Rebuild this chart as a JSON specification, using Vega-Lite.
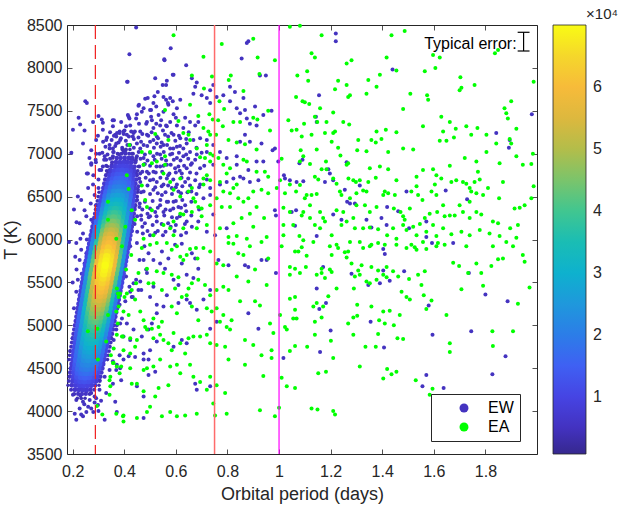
{
"$schema":"https://vega.github.io/schema/vega-lite/v6.json",
"width":470,"height":429,
"autosize":"none",
"padding":{"left":67,"top":25,"right":87,"bottom":51},
"config":{"font":"Liberation Sans","view":{"stroke":"#262626","strokeWidth":1},
"axis":{"grid":false,"domain":false,"tickColor":"#262626","tickWidth":0.8,"tickSize":-5,"labelColor":"#262626","labelFontSize":16,"titleColor":"#262626","titleFontSize":18,"titleFontWeight":"normal","labelOverlap":false,"labelFlush":false}},
"datasets":{
"ew":[
{"p":1.220,"T":8400},{"p":1.220,"T":8310},{"p":1.440,"T":7980},{"p":1.155,"T":7680},{"p":1.143,"T":7430},{"p":1.146,"T":7370},{"p":0.971,"T":7500},{"p":0.975,"T":7040},{"p":0.984,"T":7060},{"p":0.997,"T":6910},{"p":1.091,"T":6930},{"p":1.079,"T":6890},{"p":1.191,"T":6820},{"p":1.197,"T":6770},{"p":1.178,"T":6670},{"p":1.210,"T":6690},{"p":1.262,"T":6900},{"p":1.313,"T":6630},{"p":1.255,"T":6580},{"p":1.264,"T":6440},{"p":1.275,"T":6420},{"p":1.294,"T":6420},{"p":1.210,"T":6290},{"p":1.242,"T":6230},{"p":1.339,"T":6230},{"p":1.397,"T":6250},{"p":1.419,"T":6380},{"p":1.462,"T":6330},{"p":1.494,"T":6560},{"p":1.504,"T":6130},{"p":1.571,"T":6030},{"p":1.571,"T":6210},{"p":1.646,"T":6570},{"p":1.729,"T":6470},{"p":1.842,"T":7240},{"p":1.894,"T":7160},{"p":1.891,"T":7070},{"p":1.980,"T":7460},{"p":1.042,"T":6690},{"p":1.068,"T":6670},{"p":1.094,"T":6680},{"p":1.066,"T":6340},{"p":1.049,"T":6320},{"p":1.023,"T":6710},{"p":1.019,"T":6750},{"p":0.984,"T":6340},{"p":0.988,"T":6280},{"p":1.062,"T":6160},{"p":1.146,"T":6040},{"p":1.358,"T":6140},{"p":1.417,"T":6170},
{"p":0.988,"T":5610},{"p":1.146,"T":5430},{"p":1.156,"T":5190},{"p":1.171,"T":5680},{"p":1.182,"T":5260},{"p":1.200,"T":4940},{"p":1.159,"T":4690},{"p":1.281,"T":5600},{"p":1.346,"T":5470},{"p":1.355,"T":5040},{"p":1.391,"T":5490},{"p":1.404,"T":5640},{"p":1.410,"T":5830},{"p":1.404,"T":5890},{"p":1.429,"T":5520},{"p":1.485,"T":5630},{"p":1.407,"T":4740},{"p":1.571,"T":4420},{"p":1.556,"T":4290},{"p":1.593,"T":5960},{"p":1.675,"T":5960},{"p":1.595,"T":4890},{"p":1.580,"T":5230},{"p":1.638,"T":4270},{"p":1.736,"T":5610},{"p":1.800,"T":5360},{"p":1.745,"T":4930},{"p":1.827,"T":4430},{"p":1.878,"T":4640},{"p":1.886,"T":5280},{"p":1.017,"T":4620},
{"p":0.446,"T":8470},{"p":0.580,"T":8230},{"p":0.420,"T":8160},{"p":0.555,"T":8100},{"p":0.640,"T":8030},{"p":0.413,"T":7840},{"p":0.520,"T":7880},{"p":0.549,"T":7800},{"p":0.565,"T":7850},{"p":0.591,"T":7920},{"p":0.662,"T":7880},{"p":0.681,"T":7830},{"p":0.675,"T":7780},{"p":0.700,"T":7680},{"p":0.733,"T":7590},{"p":0.668,"T":7700},{"p":0.617,"T":7630},{"p":0.578,"T":7650},{"p":0.552,"T":7660},{"p":0.513,"T":7590},{"p":0.500,"T":7510},{"p":0.481,"T":7640},{"p":0.455,"T":7560},{"p":0.468,"T":7490},{"p":0.507,"T":7390},{"p":0.533,"T":7450},{"p":0.552,"T":7490},{"p":0.571,"T":7570},{"p":0.591,"T":7460},{"p":0.604,"T":7530},{"p":0.636,"T":7420},{"p":0.655,"T":7370},{"p":0.675,"T":7330},{"p":0.687,"T":7370},{"p":0.629,"T":7300},{"p":0.604,"T":7330},{"p":0.578,"T":7370},{"p":0.565,"T":7320},{"p":0.539,"T":7330},{"p":0.513,"T":7300},{"p":0.488,"T":7370},{"p":0.449,"T":7460},{"p":0.417,"T":7430},{"p":0.423,"T":7330},{"p":0.397,"T":7260},{"p":0.384,"T":7160},{"p":0.410,"T":7220},{"p":0.436,"T":7240},{"p":0.462,"T":7260},{"p":0.488,"T":7220},{"p":0.526,"T":7200},{"p":0.558,"T":7220},{"p":0.591,"T":7220},{"p":0.617,"T":7180},{"p":0.642,"T":7120},{"p":0.668,"T":7160},{"p":0.694,"T":7180},{"p":0.720,"T":7160},{"p":0.745,"T":7100},{"p":0.720,"T":7020},{"p":0.681,"T":6990},{"p":0.655,"T":7020},{"p":0.629,"T":7060},{"p":0.604,"T":7080},{"p":0.578,"T":7060},{"p":0.552,"T":7100},{"p":0.526,"T":7120},{"p":0.500,"T":7140},{"p":0.475,"T":7100},{"p":0.449,"T":7120},{"p":0.423,"T":7100},{"p":0.397,"T":7020},{"p":0.371,"T":6950},{"p":0.391,"T":6890},{"p":0.423,"T":6950},{"p":0.449,"T":6970},{"p":0.475,"T":6950},{"p":0.513,"T":6970},{"p":0.539,"T":6990},{"p":0.578,"T":6990},{"p":0.604,"T":6950},{"p":0.629,"T":6970},{"p":0.662,"T":6890},{"p":0.642,"T":6830},{"p":0.623,"T":6770},{"p":0.597,"T":6830},{"p":0.565,"T":6870},{"p":0.539,"T":6850},{"p":0.513,"T":6790},{"p":0.488,"T":6790},{"p":0.462,"T":6770},{"p":0.436,"T":6830},{"p":0.410,"T":6850},{"p":0.384,"T":6790},{"p":0.371,"T":6710},{"p":0.404,"T":6670},{"p":0.436,"T":6690},{"p":0.462,"T":6670},{"p":0.500,"T":6690},{"p":0.526,"T":6670},{"p":0.552,"T":6640},{"p":0.584,"T":6600},{"p":0.604,"T":6640},{"p":0.636,"T":6670},{"p":0.675,"T":6690},{"p":0.694,"T":6640},{"p":0.733,"T":6600},{"p":0.771,"T":6640},{"p":0.797,"T":6670},{"p":0.823,"T":6710},{"p":0.849,"T":6730},{"p":0.887,"T":6670},{"p":0.920,"T":6690},{"p":0.939,"T":6910},{"p":0.913,"T":6910},{"p":0.881,"T":6810},{"p":0.862,"T":6710},{"p":0.836,"T":6870},{"p":0.797,"T":6950},{"p":0.771,"T":7020},{"p":0.745,"T":6870},{"p":0.694,"T":6830},{"p":0.359,"T":7020},{"p":0.359,"T":6640},{"p":0.378,"T":6520},{"p":0.410,"T":6480},{"p":0.449,"T":6500},{"p":0.475,"T":6560},{"p":0.513,"T":6580},{"p":0.546,"T":6520},{"p":0.565,"T":6440},{"p":0.591,"T":6440},{"p":0.610,"T":6380},{"p":0.636,"T":6400},{"p":0.539,"T":6400},{"p":0.520,"T":6320},{"p":0.500,"T":6270},{"p":0.526,"T":6210},{"p":0.552,"T":6320},{"p":0.578,"T":6340},{"p":0.604,"T":6250},{"p":0.642,"T":6210},{"p":0.662,"T":6150},{"p":0.687,"T":6210},{"p":0.720,"T":6090},{"p":0.752,"T":6050},{"p":0.797,"T":6130},{"p":0.745,"T":6290},{"p":0.707,"T":6480},{"p":0.733,"T":6520},{"p":0.836,"T":6970},{"p":0.849,"T":7140},{"p":0.868,"T":7220},{"p":0.887,"T":7140},{"p":0.932,"T":7120},{"p":0.913,"T":7330},{"p":0.887,"T":7350},{"p":0.875,"T":7410},{"p":0.849,"T":7470},{"p":0.836,"T":7530},{"p":0.810,"T":7610},{"p":0.784,"T":7680},{"p":0.758,"T":7660},{"p":0.745,"T":7800},{"p":0.720,"T":7650},{"p":0.733,"T":7740},{"p":0.862,"T":7650},{"p":0.868,"T":7510},{"p":0.907,"T":7550},{"p":0.939,"T":7450},{"p":0.875,"T":8290},{"p":0.881,"T":8310},{"p":0.855,"T":8110},{"p":0.926,"T":7910},{"p":0.949,"T":7910},{"p":0.355,"T":7390},{"p":0.365,"T":7220},{"p":0.829,"T":7720},{"p":0.810,"T":7780},
{"p":0.430,"T":6560},{"p":0.460,"T":6420},{"p":0.490,"T":6300},{"p":0.470,"T":6150},{"p":0.430,"T":6100},{"p":0.500,"T":6050},{"p":0.550,"T":6050},{"p":0.580,"T":6150},{"p":0.620,"T":6050},{"p":0.450,"T":6270},{"p":0.530,"T":6100},{"p":0.640,"T":6330},{"p":0.660,"T":6560},{"p":0.610,"T":6560},{"p":0.570,"T":6750},{"p":0.480,"T":6880},{"p":0.600,"T":7420},{"p":0.650,"T":7250},
{"p":0.556,"T":8090},{"p":0.588,"T":7920},{"p":0.411,"T":7840},{"p":0.562,"T":7800},{"p":0.530,"T":7720},{"p":0.491,"T":7650},{"p":0.517,"T":7670},{"p":0.475,"T":7530},{"p":0.457,"T":7570},{"p":0.504,"T":7510},{"p":0.524,"T":7550},{"p":0.562,"T":7630},{"p":0.569,"T":7590},{"p":0.588,"T":7610},{"p":0.246,"T":7270},{"p":0.317,"T":7360},{"p":0.279,"T":7370},{"p":0.298,"T":7210},{"p":0.240,"T":7120},{"p":0.272,"T":7040},{"p":0.291,"T":7000},{"p":0.289,"T":6930},{"p":0.272,"T":6870},{"p":0.255,"T":6770},{"p":0.343,"T":7100},{"p":0.356,"T":7060},{"p":0.360,"T":7390},{"p":0.388,"T":7370},{"p":0.414,"T":7450},{"p":0.420,"T":7410},{"p":0.446,"T":7410},{"p":0.457,"T":7350},{"p":0.485,"T":7350},{"p":0.504,"T":7430},{"p":0.524,"T":7350},{"p":0.543,"T":7390},{"p":0.562,"T":7330},{"p":0.369,"T":7200},{"p":0.382,"T":7260},{"p":0.401,"T":7270},{"p":0.427,"T":7260},{"p":0.330,"T":6930},{"p":0.317,"T":6850},{"p":0.337,"T":6770},{"p":0.324,"T":6970},{"p":0.304,"T":6810},
{"p":0.345,"T":7250},{"p":0.372,"T":7240},{"p":0.398,"T":7230},{"p":0.441,"T":7260},{"p":0.470,"T":7230},{"p":0.506,"T":7250},{"p":0.550,"T":7270},{"p":0.583,"T":7240},
{"p":0.333,"T":7190},{"p":0.360,"T":7210},{"p":0.387,"T":7180},{"p":0.418,"T":7200},{"p":0.455,"T":7190},{"p":0.493,"T":7210},{"p":0.531,"T":7180},{"p":0.570,"T":7200},{"p":0.612,"T":7210},
{"p":0.318,"T":7140},{"p":0.351,"T":7160},{"p":0.378,"T":7130},{"p":0.406,"T":7150},{"p":0.437,"T":7170},{"p":0.465,"T":7140},{"p":0.513,"T":7160},{"p":0.545,"T":7130},{"p":0.598,"T":7150},{"p":0.640,"T":7170},
{"p":0.327,"T":7080},{"p":0.343,"T":7060},{"p":0.365,"T":7090},{"p":0.392,"T":7070},{"p":0.412,"T":7100},{"p":0.437,"T":7070},{"p":0.462,"T":7060},{"p":0.489,"T":7090},{"p":0.515,"T":7070},{"p":0.541,"T":7080},{"p":0.566,"T":7100},{"p":0.590,"T":7060},{"p":0.616,"T":7090},{"p":0.680,"T":7070},
{"p":0.315,"T":7010},{"p":0.335,"T":6990},{"p":0.357,"T":7020},{"p":0.380,"T":6990},{"p":0.405,"T":7010},{"p":0.430,"T":7000},{"p":0.456,"T":7020},{"p":0.480,"T":6990},{"p":0.500,"T":7010},{"p":0.527,"T":7000},{"p":0.553,"T":7020},{"p":0.586,"T":7000},{"p":0.612,"T":7010},{"p":0.640,"T":6990},{"p":0.700,"T":7010},
{"p":0.322,"T":6930},{"p":0.345,"T":6940},{"p":0.402,"T":6920},{"p":0.422,"T":6940},{"p":0.445,"T":6920},{"p":0.463,"T":6940},{"p":0.490,"T":6920},{"p":0.518,"T":6930},{"p":0.545,"T":6940},{"p":0.562,"T":6920},{"p":0.592,"T":6930},{"p":0.618,"T":6920},{"p":0.648,"T":6940},{"p":0.675,"T":6930},
{"p":0.330,"T":6860},{"p":0.352,"T":6870},{"p":0.458,"T":6850},{"p":0.475,"T":6870},{"p":0.500,"T":6860},{"p":0.525,"T":6850},{"p":0.552,"T":6860},{"p":0.580,"T":6870},{"p":0.610,"T":6850},{"p":0.632,"T":6860},{"p":0.658,"T":6870},{"p":0.710,"T":6860},
{"p":0.345,"T":6780},{"p":0.470,"T":6790},{"p":0.495,"T":6770},{"p":0.522,"T":6780},{"p":0.547,"T":6790},{"p":0.575,"T":6770},{"p":0.600,"T":6780},{"p":0.615,"T":6800},{"p":0.655,"T":6780},{"p":0.680,"T":6770},
{"p":0.458,"T":6710},{"p":0.483,"T":6720},{"p":0.512,"T":6700},{"p":0.540,"T":6720},{"p":0.565,"T":6710},{"p":0.590,"T":6700},{"p":0.622,"T":6720},{"p":0.648,"T":6710},{"p":0.720,"T":6700},
{"p":0.455,"T":6620},{"p":0.490,"T":6630},{"p":0.520,"T":6610},{"p":0.545,"T":6620},{"p":0.570,"T":6630},{"p":0.600,"T":6610},{"p":0.625,"T":6620},{"p":0.655,"T":6630},{"p":0.690,"T":6610},
{"p":0.440,"T":6540},{"p":0.465,"T":6550},{"p":0.500,"T":6530},{"p":0.530,"T":6540},{"p":0.560,"T":6550},{"p":0.585,"T":6530},{"p":0.620,"T":6540},{"p":0.645,"T":6550},{"p":0.680,"T":6530},
{"p":0.420,"T":6450},{"p":0.450,"T":6460},{"p":0.480,"T":6440},{"p":0.510,"T":6450},{"p":0.540,"T":6460},{"p":0.570,"T":6440},{"p":0.600,"T":6450},{"p":0.625,"T":6460},{"p":0.660,"T":6440},
{"p":0.410,"T":6360},{"p":0.440,"T":6370},{"p":0.470,"T":6350},{"p":0.500,"T":6360},{"p":0.530,"T":6370},{"p":0.560,"T":6350},{"p":0.590,"T":6360},{"p":0.620,"T":6370},{"p":0.690,"T":6350},
{"p":0.430,"T":6270},{"p":0.465,"T":6280},{"p":0.495,"T":6260},{"p":0.525,"T":6270},{"p":0.555,"T":6280},{"p":0.585,"T":6260},{"p":0.615,"T":6270},{"p":0.660,"T":6280},
{"p":0.440,"T":6180},{"p":0.480,"T":6190},{"p":0.510,"T":6170},{"p":0.545,"T":6180},{"p":0.570,"T":6190},{"p":0.600,"T":6170},{"p":0.635,"T":6180},
{"p":0.450,"T":6090},{"p":0.490,"T":6100},{"p":0.520,"T":6080},{"p":0.560,"T":6090},{"p":0.595,"T":6100},{"p":0.640,"T":6080},
{"p":0.352,"T":5940},{"p":0.397,"T":5860},{"p":0.423,"T":5920},{"p":0.449,"T":5960},{"p":0.475,"T":5760},{"p":0.494,"T":5840},{"p":0.546,"T":5860},{"p":0.571,"T":5780},{"p":0.597,"T":5940},{"p":0.623,"T":5950},{"p":0.623,"T":5720},{"p":0.662,"T":5840},{"p":0.675,"T":5780},{"p":0.687,"T":5660},{"p":0.668,"T":5550},{"p":0.642,"T":5590},{"p":0.610,"T":5470},{"p":0.591,"T":5530},{"p":0.558,"T":5660},{"p":0.539,"T":5720},{"p":0.513,"T":5760},{"p":0.488,"T":5610},{"p":0.462,"T":5510},{"p":0.436,"T":5490},{"p":0.423,"T":5390},{"p":0.404,"T":5280},{"p":0.391,"T":5080},{"p":0.384,"T":5020},{"p":0.371,"T":5000},{"p":0.352,"T":4960},{"p":0.359,"T":4830},{"p":0.410,"T":5020},{"p":0.436,"T":4950},{"p":0.468,"T":4870},{"p":0.494,"T":4950},{"p":0.507,"T":5020},{"p":0.526,"T":5140},{"p":0.552,"T":5220},{"p":0.610,"T":5260},{"p":0.642,"T":5300},{"p":0.655,"T":5260},{"p":0.681,"T":5180},{"p":0.707,"T":5300},{"p":0.733,"T":5410},{"p":0.765,"T":5760},{"p":0.804,"T":5700},{"p":0.868,"T":5700},{"p":0.932,"T":5760},{"p":0.733,"T":4960},{"p":0.758,"T":5040},{"p":0.623,"T":4830},{"p":0.642,"T":4790},{"p":0.591,"T":4750},{"p":0.526,"T":4810},{"p":0.500,"T":4710},{"p":0.475,"T":4670},{"p":0.442,"T":4630},{"p":0.417,"T":4640},{"p":0.397,"T":4600},{"p":0.371,"T":4540},{"p":0.384,"T":4500},{"p":0.475,"T":4600},{"p":0.494,"T":4600},{"p":0.520,"T":4460},{"p":0.494,"T":4420},{"p":0.449,"T":4290},{"p":0.475,"T":4170},{"p":0.365,"T":4110},{"p":0.371,"T":3990},{"p":0.475,"T":3920},{"p":0.681,"T":4250},{"p":0.675,"T":4320},{"p":0.733,"T":4290},{"p":0.881,"T":5140},{"p":0.920,"T":4960},{"p":0.881,"T":5680},{"p":0.952,"T":5760},{"p":0.526,"T":5240},{"p":0.565,"T":5350},{"p":0.500,"T":5330},{"p":0.513,"T":5450},{"p":0.455,"T":5410},{"p":0.429,"T":5330},{"p":0.397,"T":4870},{"p":0.423,"T":4830},
{"p":0.229,"T":7340},{"p":0.201,"T":7280},{"p":0.195,"T":7010},{"p":0.272,"T":6890},{"p":0.259,"T":6770},{"p":0.279,"T":6640},{"p":0.285,"T":6520},{"p":0.220,"T":6500},{"p":0.233,"T":6460},{"p":0.246,"T":6340},{"p":0.253,"T":6270},{"p":0.272,"T":6230},{"p":0.227,"T":6190},{"p":0.240,"T":6070},{"p":0.214,"T":5960},{"p":0.233,"T":5880},{"p":0.253,"T":5840},{"p":0.186,"T":5970},{"p":0.227,"T":5760},{"p":0.246,"T":5720},{"p":0.266,"T":5660},{"p":0.220,"T":5530},{"p":0.240,"T":5450},{"p":0.233,"T":5370},{"p":0.253,"T":5330},{"p":0.214,"T":5390},
{"p":0.356,"T":7320},{"p":0.382,"T":7240},{"p":0.407,"T":7320},{"p":0.433,"T":7200},{"p":0.369,"T":7120},{"p":0.401,"T":7040},{"p":0.356,"T":6970},{"p":0.433,"T":6930},{"p":0.343,"T":6810},{"p":0.446,"T":6770},{"p":0.337,"T":6620},{"p":0.453,"T":6580},{"p":0.324,"T":6420},{"p":0.459,"T":6380},{"p":0.317,"T":6230},{"p":0.466,"T":6230},{"p":0.472,"T":6070},{"p":0.311,"T":6810},{"p":0.304,"T":7000},{"p":0.330,"T":7160},{"p":0.317,"T":7280},{"p":0.291,"T":7160},{"p":0.478,"T":5920},{"p":0.459,"T":5760},{"p":0.485,"T":5650},{"p":0.446,"T":5530},{"p":0.466,"T":5410},{"p":0.433,"T":5330},{"p":0.407,"T":5570},{"p":0.420,"T":5450},
{"p":0.265,"T":6950},{"p":0.290,"T":6900},{"p":0.280,"T":6750},{"p":0.300,"T":6600},{"p":0.260,"T":6600},{"p":0.290,"T":6400},{"p":0.270,"T":6420},{"p":0.300,"T":6700},{"p":0.255,"T":6000},{"p":0.260,"T":5900},{"p":0.275,"T":6100},
{"p":0.205,"T":6350},{"p":0.215,"T":6200},{"p":0.230,"T":6010},{"p":0.210,"T":5800},{"p":0.235,"T":5600},{"p":0.215,"T":5650},{"p":0.200,"T":5500},{"p":0.225,"T":5250},{"p":0.205,"T":5200},{"p":0.215,"T":5050},{"p":0.200,"T":4850},{"p":0.190,"T":4700},{"p":0.205,"T":4600},{"p":0.190,"T":4450},{"p":0.195,"T":4300},{"p":0.260,"T":4050},{"p":0.280,"T":3990},{"p":0.300,"T":4000},{"p":0.245,"T":4080},{"p":0.230,"T":4180},{"p":0.285,"T":4100},{"p":0.310,"T":4120},
{"p":0.220,"T":4320},{"p":0.208,"T":4250},{"p":0.201,"T":4190},{"p":0.233,"T":4270},{"p":0.253,"T":4230},{"p":0.272,"T":4210},{"p":0.214,"T":4130},{"p":0.240,"T":4110},{"p":0.266,"T":4130},{"p":0.291,"T":4150},{"p":0.227,"T":4030},{"p":0.208,"T":3970},{"p":0.233,"T":3960},{"p":0.253,"T":3990},{"p":0.214,"T":3900},{"p":0.240,"T":3940},{"p":0.272,"T":4030},{"p":0.201,"T":4360},{"p":0.304,"T":4360},{"p":0.324,"T":4400},{"p":0.343,"T":4480},{"p":0.369,"T":4480},{"p":0.356,"T":4580},{"p":0.317,"T":4630},{"p":0.382,"T":4650},{"p":0.369,"T":4950},{"p":0.343,"T":4870},{"p":0.330,"T":4790},{"p":0.311,"T":4520},{"p":0.291,"T":4440},{"p":0.227,"T":4400},{"p":0.324,"T":3900},{"p":0.298,"T":4070},{"p":0.285,"T":4170},{"p":0.304,"T":4250},{"p":0.330,"T":4210},{"p":0.356,"T":4320},{"p":0.388,"T":4360},{"p":0.382,"T":5240},{"p":0.362,"T":5140},{"p":0.220,"T":4950},{"p":0.208,"T":4750},{"p":0.214,"T":4630},{"p":0.201,"T":4520},
{"p":0.249,"T":7610},{"p":0.255,"T":7590},{"p":0.223,"T":7420},{"p":0.300,"T":7440},{"p":0.313,"T":7400}
],
"core":[
{"p":0.218,"T":4150,"d":3800},{"p":0.233,"T":4150,"d":4000},{"p":0.248,"T":4150,"d":3800},
{"p":0.206,"T":4200,"d":4600},{"p":0.221,"T":4200,"d":5300},{"p":0.236,"T":4200,"d":5500},{"p":0.251,"T":4200,"d":5300},{"p":0.266,"T":4200,"d":4600},
{"p":0.194,"T":4250,"d":4700},{"p":0.209,"T":4250,"d":6300},{"p":0.224,"T":4250,"d":7200},{"p":0.239,"T":4250,"d":7500},{"p":0.254,"T":4250,"d":7200},{"p":0.269,"T":4250,"d":6300},{"p":0.284,"T":4250,"d":4700},
{"p":0.182,"T":4300,"d":3600},{"p":0.197,"T":4300,"d":6200},{"p":0.212,"T":4300,"d":8400},{"p":0.227,"T":4300,"d":9600},{"p":0.242,"T":4300,"d":10000},{"p":0.257,"T":4300,"d":9600},{"p":0.272,"T":4300,"d":8400},{"p":0.287,"T":4300,"d":6200},{"p":0.302,"T":4300,"d":3600},
{"p":0.185,"T":4350,"d":4500},{"p":0.200,"T":4350,"d":7800},{"p":0.215,"T":4350,"d":10500},{"p":0.230,"T":4350,"d":12000},{"p":0.245,"T":4350,"d":12500},{"p":0.260,"T":4350,"d":12000},{"p":0.275,"T":4350,"d":10500},{"p":0.290,"T":4350,"d":7800},{"p":0.305,"T":4350,"d":4500},
{"p":0.188,"T":4400,"d":5400},{"p":0.203,"T":4400,"d":9300},{"p":0.218,"T":4400,"d":12600},{"p":0.233,"T":4400,"d":14400},{"p":0.248,"T":4400,"d":15000},{"p":0.263,"T":4400,"d":14400},{"p":0.278,"T":4400,"d":12600},{"p":0.293,"T":4400,"d":9300},{"p":0.308,"T":4400,"d":5400},
{"p":0.191,"T":4450,"d":6300},{"p":0.206,"T":4450,"d":10900},{"p":0.221,"T":4450,"d":14700},{"p":0.236,"T":4450,"d":16800},{"p":0.251,"T":4450,"d":17500},{"p":0.266,"T":4450,"d":16800},{"p":0.281,"T":4450,"d":14700},{"p":0.296,"T":4450,"d":10900},{"p":0.311,"T":4450,"d":6300},
{"p":0.194,"T":4500,"d":7200},{"p":0.209,"T":4500,"d":12400},{"p":0.224,"T":4500,"d":16800},{"p":0.239,"T":4500,"d":19200},{"p":0.254,"T":4500,"d":20000},{"p":0.269,"T":4500,"d":19200},{"p":0.284,"T":4500,"d":16800},{"p":0.299,"T":4500,"d":12400},{"p":0.314,"T":4500,"d":7200},
{"p":0.197,"T":4550,"d":7900},{"p":0.212,"T":4550,"d":13600},{"p":0.227,"T":4550,"d":18500},{"p":0.242,"T":4550,"d":21100},{"p":0.257,"T":4550,"d":22000},{"p":0.272,"T":4550,"d":21100},{"p":0.287,"T":4550,"d":18500},{"p":0.302,"T":4550,"d":13600},{"p":0.317,"T":4550,"d":7900},
{"p":0.185,"T":4600,"d":3600},{"p":0.200,"T":4600,"d":8600},{"p":0.215,"T":4600,"d":14900},{"p":0.230,"T":4600,"d":20200},{"p":0.245,"T":4600,"d":23000},{"p":0.260,"T":4600,"d":24000},{"p":0.275,"T":4600,"d":23000},{"p":0.290,"T":4600,"d":20200},{"p":0.305,"T":4600,"d":14900},{"p":0.320,"T":4600,"d":8600},{"p":0.335,"T":4600,"d":3600},
{"p":0.188,"T":4650,"d":3900},{"p":0.203,"T":4650,"d":9400},{"p":0.218,"T":4650,"d":16100},{"p":0.233,"T":4650,"d":21800},{"p":0.248,"T":4650,"d":25000},{"p":0.263,"T":4650,"d":26000},{"p":0.278,"T":4650,"d":25000},{"p":0.293,"T":4650,"d":21800},{"p":0.308,"T":4650,"d":16100},{"p":0.323,"T":4650,"d":9400},{"p":0.338,"T":4650,"d":3900},
{"p":0.191,"T":4700,"d":4200},{"p":0.206,"T":4700,"d":10100},{"p":0.221,"T":4700,"d":17400},{"p":0.236,"T":4700,"d":23500},{"p":0.251,"T":4700,"d":26900},{"p":0.266,"T":4700,"d":28000},{"p":0.281,"T":4700,"d":26900},{"p":0.296,"T":4700,"d":23500},{"p":0.311,"T":4700,"d":17400},{"p":0.326,"T":4700,"d":10100},{"p":0.341,"T":4700,"d":4200},
{"p":0.194,"T":4750,"d":4500},{"p":0.209,"T":4750,"d":10800},{"p":0.224,"T":4750,"d":18600},{"p":0.239,"T":4750,"d":25200},{"p":0.254,"T":4750,"d":28800},{"p":0.269,"T":4750,"d":30000},{"p":0.284,"T":4750,"d":28800},{"p":0.299,"T":4750,"d":25200},{"p":0.314,"T":4750,"d":18600},{"p":0.329,"T":4750,"d":10800},{"p":0.344,"T":4750,"d":4500},
{"p":0.197,"T":4800,"d":4800},{"p":0.212,"T":4800,"d":11500},{"p":0.227,"T":4800,"d":19800},{"p":0.242,"T":4800,"d":26900},{"p":0.257,"T":4800,"d":30700},{"p":0.272,"T":4800,"d":32000},{"p":0.287,"T":4800,"d":30700},{"p":0.302,"T":4800,"d":26900},{"p":0.317,"T":4800,"d":19800},{"p":0.332,"T":4800,"d":11500},{"p":0.347,"T":4800,"d":4800},
{"p":0.200,"T":4850,"d":5100},{"p":0.215,"T":4850,"d":12200},{"p":0.230,"T":4850,"d":21100},{"p":0.245,"T":4850,"d":28600},{"p":0.260,"T":4850,"d":32600},{"p":0.275,"T":4850,"d":34000},{"p":0.290,"T":4850,"d":32600},{"p":0.305,"T":4850,"d":28600},{"p":0.320,"T":4850,"d":21100},{"p":0.335,"T":4850,"d":12200},{"p":0.350,"T":4850,"d":5100},
{"p":0.203,"T":4900,"d":5400},{"p":0.218,"T":4900,"d":13000},{"p":0.233,"T":4900,"d":22300},{"p":0.248,"T":4900,"d":30200},{"p":0.263,"T":4900,"d":34600},{"p":0.278,"T":4900,"d":36000},{"p":0.293,"T":4900,"d":34600},{"p":0.308,"T":4900,"d":30200},{"p":0.323,"T":4900,"d":22300},{"p":0.338,"T":4900,"d":13000},{"p":0.353,"T":4900,"d":5400},
{"p":0.206,"T":4950,"d":5700},{"p":0.221,"T":4950,"d":13700},{"p":0.236,"T":4950,"d":23600},{"p":0.251,"T":4950,"d":31900},{"p":0.266,"T":4950,"d":36500},{"p":0.281,"T":4950,"d":38000},{"p":0.296,"T":4950,"d":36500},{"p":0.311,"T":4950,"d":31900},{"p":0.326,"T":4950,"d":23600},{"p":0.341,"T":4950,"d":13700},{"p":0.356,"T":4950,"d":5700},
{"p":0.209,"T":5000,"d":6000},{"p":0.224,"T":5000,"d":14400},{"p":0.239,"T":5000,"d":24800},{"p":0.254,"T":5000,"d":33600},{"p":0.269,"T":5000,"d":38400},{"p":0.284,"T":5000,"d":40000},{"p":0.299,"T":5000,"d":38400},{"p":0.314,"T":5000,"d":33600},{"p":0.329,"T":5000,"d":24800},{"p":0.344,"T":5000,"d":14400},{"p":0.359,"T":5000,"d":6000},
{"p":0.212,"T":5050,"d":6400},{"p":0.227,"T":5050,"d":15300},{"p":0.242,"T":5050,"d":26400},{"p":0.257,"T":5050,"d":35700},{"p":0.272,"T":5050,"d":40800},{"p":0.287,"T":5050,"d":42500},{"p":0.302,"T":5050,"d":40800},{"p":0.317,"T":5050,"d":35700},{"p":0.332,"T":5050,"d":26400},{"p":0.347,"T":5050,"d":15300},{"p":0.362,"T":5050,"d":6400},
{"p":0.215,"T":5100,"d":6800},{"p":0.230,"T":5100,"d":16200},{"p":0.245,"T":5100,"d":27900},{"p":0.260,"T":5100,"d":37800},{"p":0.275,"T":5100,"d":43200},{"p":0.290,"T":5100,"d":45000},{"p":0.305,"T":5100,"d":43200},{"p":0.320,"T":5100,"d":37800},{"p":0.335,"T":5100,"d":27900},{"p":0.350,"T":5100,"d":16200},{"p":0.365,"T":5100,"d":6800},
{"p":0.218,"T":5150,"d":7100},{"p":0.233,"T":5150,"d":17100},{"p":0.248,"T":5150,"d":29500},{"p":0.263,"T":5150,"d":39900},{"p":0.278,"T":5150,"d":45600},{"p":0.293,"T":5150,"d":47500},{"p":0.308,"T":5150,"d":45600},{"p":0.323,"T":5150,"d":39900},{"p":0.338,"T":5150,"d":29500},{"p":0.353,"T":5150,"d":17100},{"p":0.368,"T":5150,"d":7100},
{"p":0.221,"T":5200,"d":7500},{"p":0.236,"T":5200,"d":18000},{"p":0.251,"T":5200,"d":31000},{"p":0.266,"T":5200,"d":42000},{"p":0.281,"T":5200,"d":48000},{"p":0.296,"T":5200,"d":50000},{"p":0.311,"T":5200,"d":48000},{"p":0.326,"T":5200,"d":42000},{"p":0.341,"T":5200,"d":31000},{"p":0.356,"T":5200,"d":18000},{"p":0.371,"T":5200,"d":7500},
{"p":0.224,"T":5250,"d":7900},{"p":0.239,"T":5250,"d":18900},{"p":0.254,"T":5250,"d":32600},{"p":0.269,"T":5250,"d":44100},{"p":0.284,"T":5250,"d":50400},{"p":0.299,"T":5250,"d":52500},{"p":0.314,"T":5250,"d":50400},{"p":0.329,"T":5250,"d":44100},{"p":0.344,"T":5250,"d":32600},{"p":0.359,"T":5250,"d":18900},{"p":0.374,"T":5250,"d":7900},
{"p":0.227,"T":5300,"d":8300},{"p":0.242,"T":5300,"d":19800},{"p":0.257,"T":5300,"d":34100},{"p":0.272,"T":5300,"d":46200},{"p":0.287,"T":5300,"d":52800},{"p":0.302,"T":5300,"d":55000},{"p":0.317,"T":5300,"d":52800},{"p":0.332,"T":5300,"d":46200},{"p":0.347,"T":5300,"d":34100},{"p":0.362,"T":5300,"d":19800},{"p":0.377,"T":5300,"d":8300},
{"p":0.230,"T":5350,"d":8600},{"p":0.245,"T":5350,"d":20700},{"p":0.260,"T":5350,"d":35700},{"p":0.275,"T":5350,"d":48300},{"p":0.290,"T":5350,"d":55200},{"p":0.305,"T":5350,"d":57500},{"p":0.320,"T":5350,"d":55200},{"p":0.335,"T":5350,"d":48300},{"p":0.350,"T":5350,"d":35700},{"p":0.365,"T":5350,"d":20700},{"p":0.380,"T":5350,"d":8600},
{"p":0.233,"T":5400,"d":9000},{"p":0.248,"T":5400,"d":21600},{"p":0.263,"T":5400,"d":37200},{"p":0.278,"T":5400,"d":50400},{"p":0.293,"T":5400,"d":57600},{"p":0.308,"T":5400,"d":60000},{"p":0.323,"T":5400,"d":57600},{"p":0.338,"T":5400,"d":50400},{"p":0.353,"T":5400,"d":37200},{"p":0.368,"T":5400,"d":21600},{"p":0.383,"T":5400,"d":9000},
{"p":0.236,"T":5450,"d":9300},{"p":0.251,"T":5450,"d":22300},{"p":0.266,"T":5450,"d":38400},{"p":0.281,"T":5450,"d":52100},{"p":0.296,"T":5450,"d":59500},{"p":0.311,"T":5450,"d":62000},{"p":0.326,"T":5450,"d":59500},{"p":0.341,"T":5450,"d":52100},{"p":0.356,"T":5450,"d":38400},{"p":0.371,"T":5450,"d":22300},{"p":0.386,"T":5450,"d":9300},
{"p":0.239,"T":5500,"d":9600},{"p":0.254,"T":5500,"d":23000},{"p":0.269,"T":5500,"d":39700},{"p":0.284,"T":5500,"d":53800},{"p":0.299,"T":5500,"d":61400},{"p":0.314,"T":5500,"d":64000},{"p":0.329,"T":5500,"d":61400},{"p":0.344,"T":5500,"d":53800},{"p":0.359,"T":5500,"d":39700},{"p":0.374,"T":5500,"d":23000},{"p":0.389,"T":5500,"d":9600},
{"p":0.242,"T":5550,"d":9900},{"p":0.257,"T":5550,"d":23800},{"p":0.272,"T":5550,"d":40900},{"p":0.287,"T":5550,"d":55400},{"p":0.302,"T":5550,"d":63400},{"p":0.317,"T":5550,"d":66000},{"p":0.332,"T":5550,"d":63400},{"p":0.347,"T":5550,"d":55400},{"p":0.362,"T":5550,"d":40900},{"p":0.377,"T":5550,"d":23800},{"p":0.392,"T":5550,"d":9900},
{"p":0.245,"T":5600,"d":10200},{"p":0.260,"T":5600,"d":24500},{"p":0.275,"T":5600,"d":42200},{"p":0.290,"T":5600,"d":57100},{"p":0.305,"T":5600,"d":65300},{"p":0.320,"T":5600,"d":68000},{"p":0.335,"T":5600,"d":65300},{"p":0.350,"T":5600,"d":57100},{"p":0.365,"T":5600,"d":42200},{"p":0.380,"T":5600,"d":24500},{"p":0.395,"T":5600,"d":10200},
{"p":0.248,"T":5650,"d":10400},{"p":0.263,"T":5650,"d":24800},{"p":0.278,"T":5650,"d":42800},{"p":0.293,"T":5650,"d":58000},{"p":0.308,"T":5650,"d":66200},{"p":0.323,"T":5650,"d":69000},{"p":0.338,"T":5650,"d":66200},{"p":0.353,"T":5650,"d":58000},{"p":0.368,"T":5650,"d":42800},{"p":0.383,"T":5650,"d":24800},{"p":0.398,"T":5650,"d":10400},
{"p":0.251,"T":5700,"d":10500},{"p":0.266,"T":5700,"d":25200},{"p":0.281,"T":5700,"d":43400},{"p":0.296,"T":5700,"d":58800},{"p":0.311,"T":5700,"d":67200},{"p":0.326,"T":5700,"d":70000},{"p":0.341,"T":5700,"d":67200},{"p":0.356,"T":5700,"d":58800},{"p":0.371,"T":5700,"d":43400},{"p":0.386,"T":5700,"d":25200},{"p":0.401,"T":5700,"d":10500},
{"p":0.254,"T":5750,"d":10400},{"p":0.269,"T":5750,"d":24800},{"p":0.284,"T":5750,"d":42800},{"p":0.299,"T":5750,"d":58000},{"p":0.314,"T":5750,"d":66200},{"p":0.329,"T":5750,"d":69000},{"p":0.344,"T":5750,"d":66200},{"p":0.359,"T":5750,"d":58000},{"p":0.374,"T":5750,"d":42800},{"p":0.389,"T":5750,"d":24800},{"p":0.404,"T":5750,"d":10400},
{"p":0.257,"T":5800,"d":10200},{"p":0.272,"T":5800,"d":24500},{"p":0.287,"T":5800,"d":42200},{"p":0.302,"T":5800,"d":57100},{"p":0.317,"T":5800,"d":65300},{"p":0.332,"T":5800,"d":68000},{"p":0.347,"T":5800,"d":65300},{"p":0.362,"T":5800,"d":57100},{"p":0.377,"T":5800,"d":42200},{"p":0.392,"T":5800,"d":24500},{"p":0.407,"T":5800,"d":10200},
{"p":0.260,"T":5850,"d":9800},{"p":0.275,"T":5850,"d":23600},{"p":0.290,"T":5850,"d":40600},{"p":0.305,"T":5850,"d":55000},{"p":0.320,"T":5850,"d":62900},{"p":0.335,"T":5850,"d":65500},{"p":0.350,"T":5850,"d":62900},{"p":0.365,"T":5850,"d":55000},{"p":0.380,"T":5850,"d":40600},{"p":0.395,"T":5850,"d":23600},{"p":0.410,"T":5850,"d":9800},
{"p":0.263,"T":5900,"d":9500},{"p":0.278,"T":5900,"d":22700},{"p":0.293,"T":5900,"d":39100},{"p":0.308,"T":5900,"d":52900},{"p":0.323,"T":5900,"d":60500},{"p":0.338,"T":5900,"d":63000},{"p":0.353,"T":5900,"d":60500},{"p":0.368,"T":5900,"d":52900},{"p":0.383,"T":5900,"d":39100},{"p":0.398,"T":5900,"d":22700},{"p":0.413,"T":5900,"d":9500},
{"p":0.266,"T":5950,"d":9100},{"p":0.281,"T":5950,"d":21800},{"p":0.296,"T":5950,"d":37500},{"p":0.311,"T":5950,"d":50800},{"p":0.326,"T":5950,"d":58100},{"p":0.341,"T":5950,"d":60500},{"p":0.356,"T":5950,"d":58100},{"p":0.371,"T":5950,"d":50800},{"p":0.386,"T":5950,"d":37500},{"p":0.401,"T":5950,"d":21800},{"p":0.416,"T":5950,"d":9100},
{"p":0.269,"T":6000,"d":8700},{"p":0.284,"T":6000,"d":20900},{"p":0.299,"T":6000,"d":36000},{"p":0.314,"T":6000,"d":48700},{"p":0.329,"T":6000,"d":55700},{"p":0.344,"T":6000,"d":58000},{"p":0.359,"T":6000,"d":55700},{"p":0.374,"T":6000,"d":48700},{"p":0.389,"T":6000,"d":36000},{"p":0.404,"T":6000,"d":20900},{"p":0.419,"T":6000,"d":8700},
{"p":0.272,"T":6050,"d":8300},{"p":0.287,"T":6050,"d":19800},{"p":0.302,"T":6050,"d":34100},{"p":0.317,"T":6050,"d":46200},{"p":0.332,"T":6050,"d":52800},{"p":0.347,"T":6050,"d":55000},{"p":0.362,"T":6050,"d":52800},{"p":0.377,"T":6050,"d":46200},{"p":0.392,"T":6050,"d":34100},{"p":0.407,"T":6050,"d":19800},{"p":0.422,"T":6050,"d":8300},
{"p":0.275,"T":6100,"d":7800},{"p":0.290,"T":6100,"d":18700},{"p":0.305,"T":6100,"d":32200},{"p":0.320,"T":6100,"d":43700},{"p":0.335,"T":6100,"d":49900},{"p":0.350,"T":6100,"d":52000},{"p":0.365,"T":6100,"d":49900},{"p":0.380,"T":6100,"d":43700},{"p":0.395,"T":6100,"d":32200},{"p":0.410,"T":6100,"d":18700},{"p":0.425,"T":6100,"d":7800},
{"p":0.278,"T":6150,"d":7300},{"p":0.293,"T":6150,"d":17500},{"p":0.308,"T":6150,"d":30100},{"p":0.323,"T":6150,"d":40700},{"p":0.338,"T":6150,"d":46600},{"p":0.353,"T":6150,"d":48500},{"p":0.368,"T":6150,"d":46600},{"p":0.383,"T":6150,"d":40700},{"p":0.398,"T":6150,"d":30100},{"p":0.413,"T":6150,"d":17500},{"p":0.428,"T":6150,"d":7300},
{"p":0.281,"T":6200,"d":6800},{"p":0.296,"T":6200,"d":16200},{"p":0.311,"T":6200,"d":27900},{"p":0.326,"T":6200,"d":37800},{"p":0.341,"T":6200,"d":43200},{"p":0.356,"T":6200,"d":45000},{"p":0.371,"T":6200,"d":43200},{"p":0.386,"T":6200,"d":37800},{"p":0.401,"T":6200,"d":27900},{"p":0.416,"T":6200,"d":16200},{"p":0.431,"T":6200,"d":6800},
{"p":0.284,"T":6250,"d":6300},{"p":0.299,"T":6250,"d":15100},{"p":0.314,"T":6250,"d":26000},{"p":0.329,"T":6250,"d":35300},{"p":0.344,"T":6250,"d":40300},{"p":0.359,"T":6250,"d":42000},{"p":0.374,"T":6250,"d":40300},{"p":0.389,"T":6250,"d":35300},{"p":0.404,"T":6250,"d":26000},{"p":0.419,"T":6250,"d":15100},{"p":0.434,"T":6250,"d":6300},
{"p":0.287,"T":6300,"d":5900},{"p":0.302,"T":6300,"d":14000},{"p":0.317,"T":6300,"d":24200},{"p":0.332,"T":6300,"d":32800},{"p":0.347,"T":6300,"d":37400},{"p":0.362,"T":6300,"d":39000},{"p":0.377,"T":6300,"d":37400},{"p":0.392,"T":6300,"d":32800},{"p":0.407,"T":6300,"d":24200},{"p":0.422,"T":6300,"d":14000},{"p":0.437,"T":6300,"d":5900},
{"p":0.290,"T":6350,"d":5400},{"p":0.305,"T":6350,"d":13000},{"p":0.320,"T":6350,"d":22300},{"p":0.335,"T":6350,"d":30200},{"p":0.350,"T":6350,"d":34600},{"p":0.365,"T":6350,"d":36000},{"p":0.380,"T":6350,"d":34600},{"p":0.395,"T":6350,"d":30200},{"p":0.410,"T":6350,"d":22300},{"p":0.425,"T":6350,"d":13000},{"p":0.440,"T":6350,"d":5400},
{"p":0.293,"T":6400,"d":5000},{"p":0.308,"T":6400,"d":11900},{"p":0.323,"T":6400,"d":20500},{"p":0.338,"T":6400,"d":27700},{"p":0.353,"T":6400,"d":31700},{"p":0.368,"T":6400,"d":33000},{"p":0.383,"T":6400,"d":31700},{"p":0.398,"T":6400,"d":27700},{"p":0.413,"T":6400,"d":20500},{"p":0.428,"T":6400,"d":11900},{"p":0.443,"T":6400,"d":5000},
{"p":0.296,"T":6450,"d":4500},{"p":0.311,"T":6450,"d":10800},{"p":0.326,"T":6450,"d":18600},{"p":0.341,"T":6450,"d":25200},{"p":0.356,"T":6450,"d":28800},{"p":0.371,"T":6450,"d":30000},{"p":0.386,"T":6450,"d":28800},{"p":0.401,"T":6450,"d":25200},{"p":0.416,"T":6450,"d":18600},{"p":0.431,"T":6450,"d":10800},{"p":0.446,"T":6450,"d":4500},
{"p":0.299,"T":6500,"d":4100},{"p":0.314,"T":6500,"d":9700},{"p":0.329,"T":6500,"d":16700},{"p":0.344,"T":6500,"d":22700},{"p":0.359,"T":6500,"d":25900},{"p":0.374,"T":6500,"d":27000},{"p":0.389,"T":6500,"d":25900},{"p":0.404,"T":6500,"d":22700},{"p":0.419,"T":6500,"d":16700},{"p":0.434,"T":6500,"d":9700},{"p":0.449,"T":6500,"d":4100},
{"p":0.302,"T":6550,"d":3600},{"p":0.317,"T":6550,"d":8600},{"p":0.332,"T":6550,"d":14900},{"p":0.347,"T":6550,"d":20200},{"p":0.362,"T":6550,"d":23000},{"p":0.377,"T":6550,"d":24000},{"p":0.392,"T":6550,"d":23000},{"p":0.407,"T":6550,"d":20200},{"p":0.422,"T":6550,"d":14900},{"p":0.437,"T":6550,"d":8600},{"p":0.452,"T":6550,"d":3600},
{"p":0.320,"T":6600,"d":7600},{"p":0.335,"T":6600,"d":13000},{"p":0.350,"T":6600,"d":17600},{"p":0.365,"T":6600,"d":20200},{"p":0.380,"T":6600,"d":21000},{"p":0.395,"T":6600,"d":20200},{"p":0.410,"T":6600,"d":17600},{"p":0.425,"T":6600,"d":13000},{"p":0.440,"T":6600,"d":7600},
{"p":0.323,"T":6650,"d":6700},{"p":0.338,"T":6650,"d":11500},{"p":0.353,"T":6650,"d":15500},{"p":0.368,"T":6650,"d":17800},{"p":0.383,"T":6650,"d":18500},{"p":0.398,"T":6650,"d":17800},{"p":0.413,"T":6650,"d":15500},{"p":0.428,"T":6650,"d":11500},{"p":0.443,"T":6650,"d":6700},
{"p":0.326,"T":6700,"d":5800},{"p":0.341,"T":6700,"d":9900},{"p":0.356,"T":6700,"d":13400},{"p":0.371,"T":6700,"d":15400},{"p":0.386,"T":6700,"d":16000},{"p":0.401,"T":6700,"d":15400},{"p":0.416,"T":6700,"d":13400},{"p":0.431,"T":6700,"d":9900},{"p":0.446,"T":6700,"d":5800},
{"p":0.329,"T":6750,"d":5000},{"p":0.344,"T":6750,"d":8700},{"p":0.359,"T":6750,"d":11800},{"p":0.374,"T":6750,"d":13400},{"p":0.389,"T":6750,"d":14000},{"p":0.404,"T":6750,"d":13400},{"p":0.419,"T":6750,"d":11800},{"p":0.434,"T":6750,"d":8700},{"p":0.449,"T":6750,"d":5000},
{"p":0.332,"T":6800,"d":4300},{"p":0.347,"T":6800,"d":7400},{"p":0.362,"T":6800,"d":10100},{"p":0.377,"T":6800,"d":11500},{"p":0.392,"T":6800,"d":12000},{"p":0.407,"T":6800,"d":11500},{"p":0.422,"T":6800,"d":10100},{"p":0.437,"T":6800,"d":7400},{"p":0.452,"T":6800,"d":4300},
{"p":0.335,"T":6850,"d":3600},{"p":0.350,"T":6850,"d":6200},{"p":0.365,"T":6850,"d":8400},{"p":0.380,"T":6850,"d":9600},{"p":0.395,"T":6850,"d":10000},{"p":0.410,"T":6850,"d":9600},{"p":0.425,"T":6850,"d":8400},{"p":0.440,"T":6850,"d":6200},{"p":0.455,"T":6850,"d":3600},
{"p":0.353,"T":6900,"d":5000},{"p":0.368,"T":6900,"d":6700},{"p":0.383,"T":6900,"d":7700},{"p":0.398,"T":6900,"d":8000},{"p":0.413,"T":6900,"d":7700},{"p":0.428,"T":6900,"d":6700},{"p":0.443,"T":6900,"d":5000},
{"p":0.356,"T":6950,"d":4000},{"p":0.371,"T":6950,"d":5500},{"p":0.386,"T":6950,"d":6200},{"p":0.401,"T":6950,"d":6500},{"p":0.416,"T":6950,"d":6200},{"p":0.431,"T":6950,"d":5500},{"p":0.446,"T":6950,"d":4000},
{"p":0.374,"T":7000,"d":4200},{"p":0.389,"T":7000,"d":4800},{"p":0.404,"T":7000,"d":5000},{"p":0.419,"T":7000,"d":4800},{"p":0.434,"T":7000,"d":4200},
{"p":0.392,"T":7050,"d":3800},{"p":0.407,"T":7050,"d":4000},{"p":0.422,"T":7050,"d":3800}
],
"ea":[
{"p":1.042,"T":8480},{"p":1.081,"T":8490},{"p":1.165,"T":8380},{"p":0.984,"T":8090},{"p":1.126,"T":8170},{"p":1.139,"T":8120},{"p":1.281,"T":8090},{"p":1.262,"T":8050},{"p":1.417,"T":8120},{"p":1.436,"T":8380},{"p":1.487,"T":8430},{"p":1.597,"T":8150},{"p":1.623,"T":8120},{"p":1.071,"T":7910},{"p":1.109,"T":7960},{"p":1.113,"T":7850},{"p":1.229,"T":7850},{"p":1.217,"T":7750},{"p":1.262,"T":7800},{"p":1.275,"T":7680},{"p":1.268,"T":7660},{"p":1.346,"T":7860},{"p":1.378,"T":7780},{"p":1.391,"T":7920},{"p":1.339,"T":7700},{"p":1.455,"T":7970},{"p":1.565,"T":7960},{"p":1.606,"T":8000},{"p":1.703,"T":7890},{"p":1.707,"T":7770},{"p":1.700,"T":7740},{"p":1.758,"T":7800},{"p":1.574,"T":7680},{"p":1.578,"T":7630},{"p":1.509,"T":7700},{"p":1.900,"T":7610},{"p":1.874,"T":7530},{"p":1.881,"T":7470},{"p":1.887,"T":7410},{"p":1.920,"T":7290},{"p":1.987,"T":7840},{"p":1.837,"T":8170},{"p":1.849,"T":8210},{"p":1.066,"T":7660},{"p":1.091,"T":7610},{"p":1.100,"T":7600},{"p":1.117,"T":7580},{"p":1.159,"T":7530},{"p":1.139,"T":7430},{"p":1.036,"T":7390},{"p":1.049,"T":7270},{"p":1.068,"T":7280},{"p":1.088,"T":7200},{"p":1.097,"T":7350},{"p":1.148,"T":7370},{"p":1.184,"T":7370},{"p":1.210,"T":7480},{"p":1.249,"T":7370},{"p":1.272,"T":7340},{"p":1.217,"T":7260},{"p":1.126,"T":7220},{"p":1.178,"T":7240},{"p":1.204,"T":7140},{"p":1.229,"T":7070},{"p":1.238,"T":6980},{"p":1.146,"T":7050},{"p":1.084,"T":7040},{"p":1.081,"T":6910},{"p":1.010,"T":6940},{"p":1.004,"T":6690},{"p":0.991,"T":6600},{"p":1.023,"T":6540},{"p":1.042,"T":6640},{"p":1.066,"T":6560},{"p":1.081,"T":6635},{"p":1.107,"T":6520},{"p":1.126,"T":6520},{"p":1.146,"T":6530},{"p":1.100,"T":6480},{"p":1.120,"T":6400},{"p":1.017,"T":6370},{"p":1.042,"T":6320},{"p":1.094,"T":6320},{"p":1.088,"T":6280},{"p":1.120,"T":6250},{"p":1.159,"T":6320},{"p":1.171,"T":6250},{"p":1.178,"T":6210},{"p":1.139,"T":6170},{"p":1.055,"T":6170},{"p":1.017,"T":6170},{"p":1.017,"T":6050},{"p":1.079,"T":6040},{"p":1.159,"T":6130},{"p":1.204,"T":6050},{"p":1.165,"T":6820},{"p":1.184,"T":6820},{"p":1.139,"T":6730},{"p":1.152,"T":6700},{"p":1.210,"T":6710},{"p":1.223,"T":6650},{"p":1.236,"T":6560},{"p":1.242,"T":6520},{"p":1.262,"T":6870},{"p":1.269,"T":6710},{"p":1.288,"T":6690},{"p":1.298,"T":6670},{"p":1.313,"T":6690},{"p":1.300,"T":6540},{"p":1.326,"T":6570},{"p":1.339,"T":6560},{"p":1.346,"T":6670},{"p":1.352,"T":6830},{"p":1.375,"T":6720},{"p":1.391,"T":6850},{"p":1.423,"T":6820},{"p":1.455,"T":6690},{"p":1.410,"T":6560},{"p":1.404,"T":6520},{"p":1.423,"T":6540},{"p":1.449,"T":6520},{"p":1.445,"T":6360},{"p":1.471,"T":6320},{"p":1.481,"T":6270},{"p":1.507,"T":6360},{"p":1.513,"T":6560},{"p":1.533,"T":6620},{"p":1.539,"T":6520},{"p":1.556,"T":6460},{"p":1.533,"T":6730},{"p":1.558,"T":6810},{"p":1.597,"T":6820},{"p":1.610,"T":6750},{"p":1.629,"T":6710},{"p":1.604,"T":6640},{"p":1.591,"T":6560},{"p":1.610,"T":6520},{"p":1.662,"T":6860},{"p":1.668,"T":6670},{"p":1.687,"T":6690},{"p":1.713,"T":6670},{"p":1.739,"T":6600},{"p":1.758,"T":6670},{"p":1.771,"T":6790},{"p":1.778,"T":6700},{"p":1.810,"T":6600},{"p":1.868,"T":6670},{"p":1.853,"T":6480},{"p":1.913,"T":6360},{"p":1.933,"T":6370},{"p":1.952,"T":6400},{"p":1.978,"T":6480},{"p":1.987,"T":6620},{"p":1.642,"T":6270},{"p":1.662,"T":6280},{"p":1.681,"T":6280},{"p":1.713,"T":6320},{"p":1.739,"T":6250},{"p":1.765,"T":6320},{"p":1.784,"T":6290},{"p":1.829,"T":6210},{"p":1.849,"T":6190},{"p":1.926,"T":6170},{"p":1.896,"T":6130},{"p":1.855,"T":6040},{"p":1.920,"T":6020},{"p":1.816,"T":6070},{"p":1.778,"T":6110},{"p":1.739,"T":6050},{"p":1.707,"T":6090},{"p":1.668,"T":6060},{"p":1.636,"T":6130},{"p":1.597,"T":6170},{"p":1.546,"T":6180},{"p":1.520,"T":6150},{"p":1.481,"T":6170},{"p":1.442,"T":6130},{"p":1.419,"T":6050},{"p":1.384,"T":6120},{"p":1.352,"T":6140},{"p":1.326,"T":6130},{"p":1.288,"T":6250},{"p":1.294,"T":6130},{"p":1.262,"T":6210},{"p":1.242,"T":6170},{"p":1.352,"T":6320},{"p":1.378,"T":6380},{"p":1.333,"T":6400},{"p":1.300,"T":6400},{"p":1.275,"T":6480},{"p":1.249,"T":6320},{"p":1.223,"T":6340},{"p":1.455,"T":6010},{"p":1.494,"T":6110},{"p":1.533,"T":6050},{"p":1.571,"T":6090},{"p":1.610,"T":6040},{"p":1.685,"T":7290},{"p":1.678,"T":7190},{"p":1.649,"T":7150},{"p":1.623,"T":7150},{"p":1.662,"T":7370},{"p":1.629,"T":7430},{"p":1.558,"T":7320},{"p":1.520,"T":7050},{"p":1.481,"T":7060},{"p":1.423,"T":7020},{"p":1.378,"T":7260},{"p":1.358,"T":7160},{"p":1.375,"T":7130},{"p":1.397,"T":7170},{"p":1.414,"T":7280},{"p":1.455,"T":7250},{"p":1.339,"T":7030},{"p":1.303,"T":7040},{"p":1.268,"T":6890},{"p":1.182,"T":6910},{"p":1.120,"T":6880},{"p":1.094,"T":6970},{"p":1.210,"T":7240},{"p":1.307,"T":7160},{"p":1.481,"T":7520},{"p":1.636,"T":7260},{"p":1.726,"T":7320},{"p":1.745,"T":7220},{"p":1.769,"T":7300},{"p":1.804,"T":7220},{"p":1.842,"T":7120},{"p":1.894,"T":7170},{"p":1.900,"T":7120},{"p":1.765,"T":6910},{"p":1.720,"T":6950},{"p":1.726,"T":6650},{"p":1.804,"T":7020},{"p":1.920,"T":6970},{"p":1.945,"T":6870},{"p":1.978,"T":6880},{"p":1.984,"T":7000},{"p":1.855,"T":6890},{"p":1.791,"T":6520},{"p":1.765,"T":6540},{"p":1.745,"T":6560},{"p":1.739,"T":6440},{"p":1.700,"T":6400},{"p":1.636,"T":6400},{"p":1.613,"T":6320},{"p":1.584,"T":6300},{"p":1.565,"T":6250},{"p":1.487,"T":6230},
{"p":1.010,"T":5920},{"p":1.062,"T":5860},{"p":1.075,"T":5860},{"p":1.088,"T":5910},{"p":1.107,"T":5810},{"p":1.094,"T":5990},{"p":1.133,"T":5970},{"p":1.197,"T":5920},{"p":1.204,"T":5820},{"p":1.223,"T":5940},{"p":1.229,"T":5900},{"p":1.255,"T":5850},{"p":1.262,"T":5790},{"p":1.268,"T":5860},{"p":1.275,"T":5970},{"p":1.313,"T":5970},{"p":1.326,"T":5900},{"p":1.352,"T":5920},{"p":1.358,"T":5940},{"p":1.384,"T":5960},{"p":1.410,"T":5940},{"p":1.455,"T":5940},{"p":1.494,"T":5900},{"p":1.513,"T":5940},{"p":1.526,"T":5910},{"p":1.533,"T":5880},{"p":1.558,"T":5970},{"p":1.571,"T":5890},{"p":1.610,"T":5920},{"p":1.616,"T":5960},{"p":1.642,"T":5940},{"p":1.675,"T":5730},{"p":1.698,"T":5690},{"p":1.726,"T":5920},{"p":1.733,"T":5610},{"p":1.765,"T":5720},{"p":1.784,"T":5610},{"p":1.823,"T":5690},{"p":1.829,"T":5920},{"p":1.849,"T":5770},{"p":1.868,"T":5780},{"p":1.881,"T":5970},{"p":1.907,"T":5920},{"p":1.945,"T":5820},{"p":1.952,"T":5740},{"p":1.971,"T":5440},{"p":1.926,"T":5250},{"p":1.791,"T":5460},{"p":1.707,"T":5420},{"p":1.042,"T":5680},{"p":1.042,"T":5590},{"p":1.062,"T":5660},{"p":1.081,"T":5610},{"p":1.104,"T":5680},{"p":1.146,"T":5590},{"p":1.165,"T":5610},{"p":1.165,"T":5660},{"p":1.197,"T":5650},{"p":1.204,"T":5620},{"p":1.178,"T":5550},{"p":1.223,"T":5430},{"p":1.281,"T":5720},{"p":1.294,"T":5570},{"p":1.307,"T":5640},{"p":1.313,"T":5590},{"p":1.320,"T":5700},{"p":1.339,"T":5510},{"p":1.352,"T":5490},{"p":1.358,"T":5680},{"p":1.378,"T":5530},{"p":1.384,"T":5640},{"p":1.404,"T":5590},{"p":1.417,"T":5680},{"p":1.417,"T":5560},{"p":1.442,"T":5630},{"p":1.462,"T":5570},{"p":1.475,"T":5390},{"p":1.494,"T":5330},{"p":1.504,"T":5540},{"p":1.539,"T":5590},{"p":1.552,"T":5470},{"p":1.561,"T":5350},{"p":1.571,"T":5190},{"p":1.591,"T":5290},{"p":1.507,"T":5300},{"p":1.565,"T":5630},{"p":1.004,"T":5120},{"p":0.978,"T":4910},{"p":0.965,"T":5020},{"p":0.971,"T":4710},{"p":0.971,"T":4620},{"p":1.023,"T":4980},{"p":1.030,"T":4950},{"p":1.042,"T":4700},{"p":1.062,"T":4760},{"p":1.055,"T":5080},{"p":1.068,"T":5080},{"p":1.062,"T":5180},{"p":1.042,"T":5310},{"p":1.062,"T":5330},{"p":1.109,"T":4750},{"p":1.139,"T":4890},{"p":1.139,"T":5040},{"p":1.133,"T":5220},{"p":1.146,"T":5260},{"p":1.165,"T":5090},{"p":1.171,"T":5220},{"p":1.191,"T":5340},{"p":1.201,"T":4820},{"p":1.210,"T":4620},{"p":1.268,"T":5020},{"p":1.288,"T":5090},{"p":1.303,"T":5110},{"p":1.303,"T":5240},{"p":1.288,"T":4890},{"p":1.290,"T":5430},{"p":1.335,"T":4750},{"p":1.358,"T":5220},{"p":1.375,"T":4750},{"p":1.388,"T":5060},{"p":1.384,"T":4900},{"p":1.404,"T":5160},{"p":1.410,"T":5020},{"p":1.429,"T":5170},{"p":1.445,"T":5000},{"p":1.468,"T":5120},{"p":1.459,"T":4850},{"p":1.481,"T":4840},{"p":1.404,"T":4380},{"p":1.419,"T":4490},{"p":1.436,"T":4430},{"p":1.455,"T":4460},{"p":1.530,"T":4360},{"p":1.595,"T":4260},{"p":1.584,"T":4190},{"p":1.662,"T":4790},{"p":1.662,"T":4690},{"p":1.649,"T":5120},{"p":1.827,"T":4930},{"p":1.829,"T":4760},{"p":1.907,"T":4930},{"p":1.152,"T":4440},{"p":1.182,"T":4460},{"p":1.313,"T":4520},{"p":1.010,"T":4390},{"p":1.030,"T":4290},{"p":1.062,"T":4270},{"p":1.000,"T":4040},{"p":0.984,"T":3940},{"p":1.126,"T":4030},{"p":1.149,"T":4020},{"p":1.210,"T":4000},{"p":1.217,"T":3960},
{"p":0.591,"T":8380},{"p":0.778,"T":8280},{"p":0.900,"T":8340},{"p":0.707,"T":8130},{"p":0.917,"T":8120},{"p":0.924,"T":7930},{"p":0.813,"T":7910},{"p":0.805,"T":7860},{"p":0.662,"T":7910},{"p":0.709,"T":7760},{"p":0.740,"T":7900},{"p":0.862,"T":7730},{"p":0.769,"T":7610},{"p":0.787,"T":7520},{"p":0.655,"T":7570},{"p":0.687,"T":7440},{"p":0.730,"T":7460},{"p":0.743,"T":7400},{"p":0.764,"T":7390},{"p":0.782,"T":7320},{"p":0.823,"T":7370},{"p":0.849,"T":7370},{"p":0.900,"T":7420},{"p":0.916,"T":7400},{"p":0.958,"T":7500},{"p":0.965,"T":7270},{"p":0.558,"T":7510},{"p":0.610,"T":7380},{"p":0.629,"T":7240},{"p":0.649,"T":7220},{"p":0.707,"T":7300},{"p":0.726,"T":7260},{"p":0.733,"T":7220},{"p":0.756,"T":7220},{"p":0.804,"T":7160},{"p":0.836,"T":7130},{"p":0.868,"T":7110},{"p":0.913,"T":7050},{"p":0.520,"T":7230},{"p":0.571,"T":7160},{"p":0.655,"T":7160},{"p":0.681,"T":7060},{"p":0.720,"T":7100},{"p":0.733,"T":7000},{"p":0.745,"T":6980},{"p":0.694,"T":6960},{"p":0.713,"T":6950},{"p":0.733,"T":6910},{"p":0.765,"T":6950},{"p":0.784,"T":6870},{"p":0.810,"T":6830},{"p":0.797,"T":6770},{"p":0.862,"T":6930},{"p":0.875,"T":6910},{"p":0.913,"T":6790},{"p":0.945,"T":6790},{"p":0.958,"T":6730},{"p":0.836,"T":6640},{"p":0.823,"T":6600},{"p":0.810,"T":6540},{"p":0.784,"T":6560},{"p":0.720,"T":6750},{"p":0.707,"T":6710},{"p":0.733,"T":6690},{"p":0.771,"T":6670},{"p":0.707,"T":6640},{"p":0.662,"T":6600},{"p":0.649,"T":6560},{"p":0.578,"T":6670},{"p":0.591,"T":6580},{"p":0.617,"T":6500},{"p":0.500,"T":7020},{"p":0.468,"T":7020},{"p":0.475,"T":6870},{"p":0.507,"T":6890},{"p":0.526,"T":6910},{"p":0.558,"T":6970},{"p":0.558,"T":6870},{"p":0.552,"T":6770},{"p":0.617,"T":6710},{"p":0.410,"T":6750},{"p":0.417,"T":6590},{"p":0.468,"T":6630},{"p":0.481,"T":6460},{"p":0.488,"T":6380},{"p":0.507,"T":6340},{"p":0.429,"T":6340},{"p":0.442,"T":6230},{"p":0.404,"T":6150},{"p":0.552,"T":6170},{"p":0.578,"T":6130},{"p":0.591,"T":6210},{"p":0.617,"T":6300},{"p":0.629,"T":6290},{"p":0.668,"T":6480},{"p":0.675,"T":6440},{"p":0.687,"T":6380},{"p":0.700,"T":6360},{"p":0.662,"T":6320},{"p":0.700,"T":6270},{"p":0.720,"T":6170},{"p":0.733,"T":6400},{"p":0.758,"T":6480},{"p":0.778,"T":6380},{"p":0.810,"T":6380},{"p":0.842,"T":6480},{"p":0.862,"T":6440},{"p":0.881,"T":6480},{"p":0.900,"T":6560},{"p":0.932,"T":6580},{"p":0.958,"T":6540},{"p":0.913,"T":6380},{"p":0.887,"T":6300},{"p":0.855,"T":6250},{"p":0.823,"T":6190},{"p":0.771,"T":6130},{"p":0.681,"T":6130},{"p":0.629,"T":6130},{"p":0.591,"T":6050},{"p":0.513,"T":6050},{"p":0.475,"T":6010},{"p":0.804,"T":6030},{"p":0.836,"T":6040},{"p":0.875,"T":6010},{"p":0.900,"T":6150},{"p":0.942,"T":6250},{"p":0.952,"T":6030},
{"p":0.468,"T":5900},{"p":0.500,"T":5940},{"p":0.526,"T":5960},{"p":0.565,"T":5960},{"p":0.584,"T":5880},{"p":0.604,"T":5920},{"p":0.617,"T":5800},{"p":0.629,"T":5760},{"p":0.642,"T":5820},{"p":0.655,"T":5890},{"p":0.678,"T":5900},{"p":0.684,"T":5780},{"p":0.707,"T":5900},{"p":0.733,"T":5860},{"p":0.758,"T":5720},{"p":0.784,"T":5700},{"p":0.804,"T":5960},{"p":0.823,"T":5950},{"p":0.842,"T":5840},{"p":0.862,"T":5820},{"p":0.887,"T":5920},{"p":0.907,"T":5650},{"p":0.932,"T":5970},{"p":0.958,"T":5780},{"p":0.384,"T":5370},{"p":0.410,"T":5370},{"p":0.429,"T":5410},{"p":0.455,"T":5610},{"p":0.488,"T":5660},{"p":0.494,"T":5490},{"p":0.513,"T":5490},{"p":0.526,"T":5630},{"p":0.546,"T":5410},{"p":0.552,"T":5610},{"p":0.584,"T":5590},{"p":0.597,"T":5430},{"p":0.610,"T":5560},{"p":0.623,"T":5330},{"p":0.642,"T":5350},{"p":0.649,"T":5430},{"p":0.662,"T":5490},{"p":0.687,"T":5530},{"p":0.713,"T":5470},{"p":0.733,"T":5350},{"p":0.758,"T":5410},{"p":0.784,"T":5450},{"p":0.804,"T":5410},{"p":0.836,"T":5570},{"p":0.849,"T":5280},{"p":0.881,"T":5510},{"p":0.907,"T":5280},{"p":0.926,"T":5230},{"p":0.952,"T":5470},{"p":0.378,"T":5220},{"p":0.397,"T":5160},{"p":0.417,"T":5120},{"p":0.442,"T":5300},{"p":0.462,"T":5160},{"p":0.475,"T":5060},{"p":0.481,"T":4980},{"p":0.513,"T":5080},{"p":0.533,"T":4980},{"p":0.546,"T":5040},{"p":0.584,"T":5220},{"p":0.604,"T":5140},{"p":0.662,"T":5220},{"p":0.687,"T":5060},{"p":0.720,"T":5200},{"p":0.739,"T":5160},{"p":0.758,"T":5200},{"p":0.771,"T":5040},{"p":0.784,"T":5120},{"p":0.797,"T":4980},{"p":0.810,"T":4950},{"p":0.816,"T":5060},{"p":0.868,"T":4830},{"p":0.900,"T":4770},{"p":0.932,"T":4650},{"p":0.868,"T":4540},{"p":0.939,"T":4410},{"p":0.926,"T":4010},{"p":0.371,"T":4890},{"p":0.391,"T":4870},{"p":0.423,"T":4850},{"p":0.449,"T":4830},{"p":0.488,"T":4950},{"p":0.507,"T":4960},{"p":0.513,"T":4850},{"p":0.539,"T":4890},{"p":0.552,"T":4830},{"p":0.571,"T":4790},{"p":0.584,"T":4710},{"p":0.591,"T":4910},{"p":0.617,"T":4790},{"p":0.636,"T":4670},{"p":0.649,"T":4850},{"p":0.668,"T":4870},{"p":0.694,"T":4870},{"p":0.720,"T":4890},{"p":0.733,"T":4790},{"p":0.758,"T":4770},{"p":0.791,"T":4750},{"p":0.804,"T":4600},{"p":0.359,"T":4730},{"p":0.397,"T":4710},{"p":0.423,"T":4670},{"p":0.442,"T":4750},{"p":0.475,"T":4480},{"p":0.488,"T":4500},{"p":0.513,"T":4520},{"p":0.539,"T":4600},{"p":0.578,"T":4520},{"p":0.604,"T":4540},{"p":0.617,"T":4440},{"p":0.655,"T":4540},{"p":0.668,"T":4400},{"p":0.694,"T":4340},{"p":0.720,"T":4250},{"p":0.733,"T":4400},{"p":0.758,"T":4300},{"p":0.791,"T":4210},{"p":0.359,"T":4560},{"p":0.371,"T":4520},{"p":0.423,"T":4500},{"p":0.429,"T":4320},{"p":0.449,"T":4320},{"p":0.475,"T":4230},{"p":0.500,"T":4050},{"p":0.488,"T":3990},{"p":0.520,"T":4170},{"p":0.533,"T":4270},{"p":0.571,"T":4300},{"p":0.397,"T":3950},{"p":0.397,"T":3880},{"p":0.449,"T":3920},{"p":0.546,"T":3940},{"p":0.578,"T":3990},{"p":0.604,"T":3940},{"p":0.636,"T":3950},{"p":0.681,"T":3970},{"p":0.745,"T":4090},{"p":0.752,"T":3950},{"p":0.797,"T":3970},{"p":0.346,"T":4400},{"p":0.346,"T":4290},{"p":0.391,"T":5920},{"p":0.371,"T":5430},{"p":0.378,"T":5330},
{"p":0.420,"T":7100},{"p":0.337,"T":6440},{"p":0.337,"T":6230},{"p":0.369,"T":6010},{"p":0.427,"T":5820},{"p":0.407,"T":5650},{"p":0.446,"T":5490},
{"p":0.375,"T":5370},{"p":0.369,"T":5160},{"p":0.337,"T":5120},{"p":0.259,"T":4930},{"p":0.330,"T":4810},{"p":0.375,"T":5020},{"p":0.395,"T":4870},{"p":0.388,"T":4520},{"p":0.382,"T":4440},{"p":0.356,"T":4560},{"p":0.343,"T":4360},{"p":0.298,"T":4600},{"p":0.294,"T":4060},{"p":0.343,"T":4190},{"p":0.369,"T":3970},{"p":0.395,"T":3940},{"p":0.401,"T":5330},
{"p":0.296,"T":4960},{"p":0.348,"T":4650},{"p":0.315,"T":3960}
],
"err":[
{"p":1.948,"p2":1.948,"T":8197,"T2":8415},
{"p":1.925,"p2":1.971,"T":8415,"T2":8415},
{"p":1.925,"p2":1.971,"T":8197,"T2":8197}
]
},
"layer":[
{"data":{"name":"ew"},
"mark":{"type":"circle","size":16,"opacity":1},
"encoding":{
"x":{"field":"p","type":"quantitative","scale":{"domain":[0.178,2],"nice":false,"zero":false},
"axis":{"orient":"bottom","values":[0.2,0.4,0.6,0.8,1,1.2,1.4,1.6,1.8],"format":"~g","title":"Orbital period (days)","labelPadding":14,"titlePadding":6}},
"y":{"field":"T","type":"quantitative","scale":{"domain":[3500,8500],"nice":false,"zero":false},
"axis":{"orient":"left","values":[3500,4000,4500,5000,5500,6000,6500,7000,7500,8000,8500],"format":"d","title":"T (K)","labelPadding":10,"titlePadding":6}},
"color":{"datum":"EW","type":"nominal","scale":{"domain":["EW","EA"],"range":["#4433c0","#00ff00"]},
"legend":{"orient":"none","legendX":364,"legendY":369,"direction":"vertical","title":null,"symbolType":"circle","symbolSize":80,"symbolStrokeWidth":0,"labelFontSize":16,"labelColor":"#000000","padding":6,"strokeColor":"#262626","fillColor":"#ffffff","rowPadding":3,"symbolOffset":19,"labelOffset":16}}
}},
{"data":{"name":"core"},
"mark":{"type":"circle","opacity":1},
"encoding":{
"x":{"field":"p","type":"quantitative","scale":{"domain":[0.178,2],"nice":false,"zero":false},
"axis":{"orient":"top","values":[0.2,0.4,0.6,0.8,1,1.2,1.4,1.6,1.8],"labels":false,"title":null}},
"y":{"field":"T","type":"quantitative","scale":{"domain":[3500,8500],"nice":false,"zero":false},
"axis":{"orient":"right","values":[3500,4000,4500,5000,5500,6000,6500,7000,7500,8000,8500],"labels":false,"title":null}},
"fill":{"field":"d","type":"quantitative",
"scale":{"domain":[800,5644,10488,15332,20176,25020,29864,34708,40244,45088,49932,54776,60312,65156,70000],
"range":["#36288e","#4534c8","#4646e6","#3e62f4","#2b7ee8","#1f98dc","#0eb1cf","#18bcb6","#43c68e","#7cc46a","#b2bd4a","#dcb83e","#f9bb3a","#f5d82a","#f9fb14"],"interpolate":"rgb"},
"legend":{"orient":"none","legendX":486,"legendY":-18,"direction":"vertical","gradientLength":429,"gradientThickness":33,"values":[10000,20000,30000,40000,50000,60000],"labelExpr":"format(datum.value/10000,'d')","labelFontSize":16,"labelOffset":7,"labelColor":"#262626","labelOverlap":false,"title":"×10⁴","titleFontSize":15,"titleFontWeight":"normal","titleColor":"#262626","titleOrient":"top","titleAnchor":"end","titleAlign":"center","titlePadding":3,"gradientStrokeColor":"#262626","gradientStrokeWidth":0.8}},
"size":{"field":"d","type":"quantitative","scale":{"domain":[3500,16000],"range":[12,56],"clamp":true},"legend":null},
"order":{"field":"d","type":"quantitative","sort":"ascending"}
}},
{"data":{"name":"ea"},
"mark":{"type":"circle","size":16,"opacity":1},
"encoding":{
"x":{"field":"p","type":"quantitative","scale":{"domain":[0.178,2],"nice":false,"zero":false},"axis":null},
"y":{"field":"T","type":"quantitative","scale":{"domain":[3500,8500],"nice":false,"zero":false},"axis":null},
"color":{"datum":"EA","type":"nominal","scale":{"domain":["EW","EA"],"range":["#4433c0","#00ff00"]}}
}},
{"data":{"values":[{"p":0.288}]},
"mark":{"type":"rule","color":"#f02020","strokeWidth":1.2,"strokeDash":[14,6]},
"encoding":{"x":{"field":"p","type":"quantitative","scale":{"domain":[0.178,2],"nice":false,"zero":false},"axis":null}}},
{"data":{"values":[{"p":0.75}]},
"mark":{"type":"rule","color":"#ff6b6b","strokeWidth":1.5},
"encoding":{"x":{"field":"p","type":"quantitative","scale":{"domain":[0.178,2],"nice":false,"zero":false},"axis":null}}},
{"data":{"values":[{"p":1.0}]},
"mark":{"type":"rule","color":"#ff00ff","strokeWidth":1.2},
"encoding":{"x":{"field":"p","type":"quantitative","scale":{"domain":[0.178,2],"nice":false,"zero":false},"axis":null}}},
{"data":{"name":"err"},
"mark":{"type":"rule","color":"#000000","strokeWidth":1.2},
"encoding":{
"x":{"field":"p","type":"quantitative","scale":{"domain":[0.178,2],"nice":false,"zero":false},"axis":null},
"x2":{"field":"p2"},
"y":{"field":"T","type":"quantitative","scale":{"domain":[3500,8500],"nice":false,"zero":false},"axis":null},
"y2":{"field":"T2"}}},
{"data":{"values":[{"p":1.921,"T":8220,"label":"Typical error:"}]},
"mark":{"type":"text","align":"right","baseline":"alphabetic","fontSize":16,"color":"#000000"},
"encoding":{
"x":{"field":"p","type":"quantitative","scale":{"domain":[0.178,2],"nice":false,"zero":false},"axis":null},
"y":{"field":"T","type":"quantitative","scale":{"domain":[3500,8500],"nice":false,"zero":false},"axis":null},
"text":{"field":"label"}}}
],
"resolve":{"axis":{"x":"independent","y":"independent"}}
}
